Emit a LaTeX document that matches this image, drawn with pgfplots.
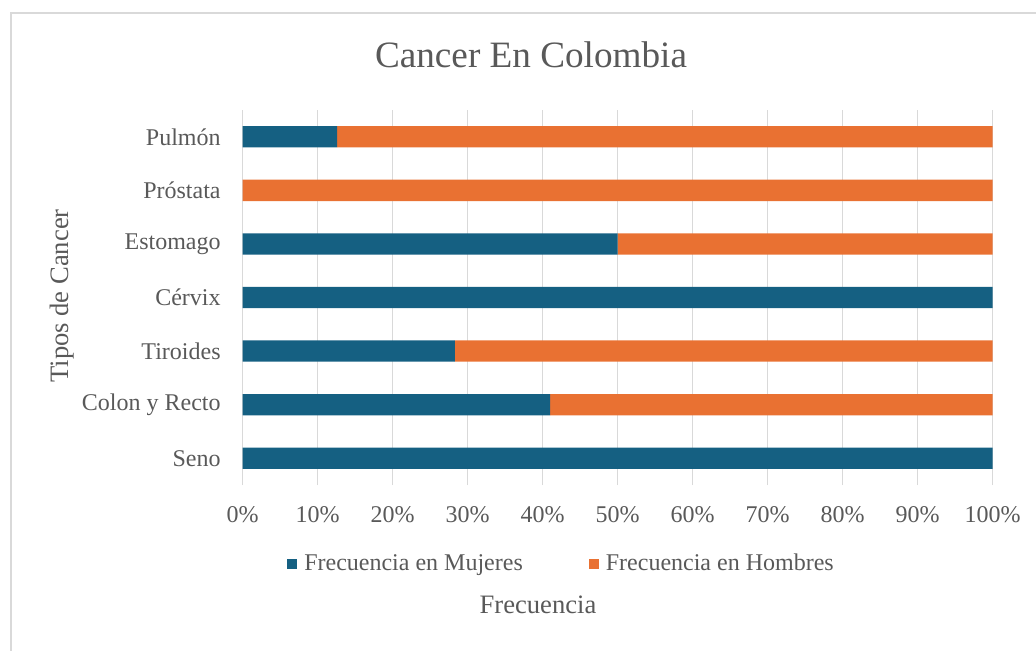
\documentclass[border=0pt]{standalone}
\usepackage{pgfplots}
\pgfplotsset{compat=1.18}
\usepackage{fontspec}
\setmainfont{Liberation Serif}
\definecolor{cblue}{HTML}{156082}
\definecolor{corange}{HTML}{E97132}
\definecolor{ctext}{HTML}{595959}
\definecolor{cgrid}{HTML}{D9D9D9}
\begin{document}
\begin{tikzpicture}
\path[use as bounding box] (-121.25pt,-82.5pt) rectangle (396.75pt,242.5pt);
\draw[cgrid, line width=1pt] (-115.75pt,-90pt) -- (-115.75pt,236pt) -- (400pt,236pt);
\begin{axis}[
  at={(0pt,0pt)}, anchor=south west,
  scale only axis,
  width=375pt, height=187.5pt,
  xbar stacked,
  bar width=10.65pt,
  xmin=0, xmax=100,
  ymin=-0.5, ymax=6.5,
  xtick={0,10,...,100},
  xticklabels={0\%,10\%,20\%,30\%,40\%,50\%,60\%,70\%,80\%,90\%,100\%},
  ytick={0,1,2,3,4,5,6},
  yticklabels={Seno,Colon y Recto,Tiroides,Cérvix,Estomago,Próstata,Pulmón},
  major tick length=0pt,
  axis line style={draw=none},
  xmajorgrids,
  grid style={cgrid, line width=0.9pt},
  tick label style={font=\fontsize{12}{14}\selectfont, text=ctext},
  xticklabel style={anchor=center, inner sep=0pt, yshift=-15pt},
  yticklabel style={anchor=east, inner sep=0pt, xshift=-10.75pt},
  title={Cancer En Colombia},
  title style={at={(axis description cs:0.3847,1.1147)}, anchor=center, font=\fontsize{18.6}{22}\selectfont, text=ctext},
  xlabel={Frecuencia},
  xlabel style={at={(axis description cs:0.394,-0.32)}, anchor=center, font=\fontsize{13.3}{16}\selectfont, text=ctext},
  ylabel={Tipos de Cancer},
  ylabel style={at={(axis description cs:-0.2407,0.504)}, anchor=center, rotate=0, font=\fontsize{13.3}{16}\selectfont, text=ctext},
  legend columns=2,
  legend style={at={(axis description cs:0.4267,-0.2103)}, anchor=center, draw=none, fill=none,
    font=\fontsize{12}{14}\selectfont, text=ctext,
    /tikz/every even column/.append style={column sep=31pt},
    /tikz/every odd column/.append style={column sep=1.5pt}},
  legend cell align=left,
  legend image code/.code={\fill (0pt,-2.4pt) rectangle (5pt,2.4pt);},
]
\addplot[fill=cblue, draw=none] coordinates {(100,0) (41,1) (28.3,2) (100,3) (50,4) (0,5) (12.6,6)};
\addplot[fill=corange, draw=none] coordinates {(0,0) (59,1) (71.7,2) (0,3) (50,4) (100,5) (87.4,6)};
\legend{Frecuencia en Mujeres, Frecuencia en Hombres}
\end{axis}
\end{tikzpicture}
\end{document}
